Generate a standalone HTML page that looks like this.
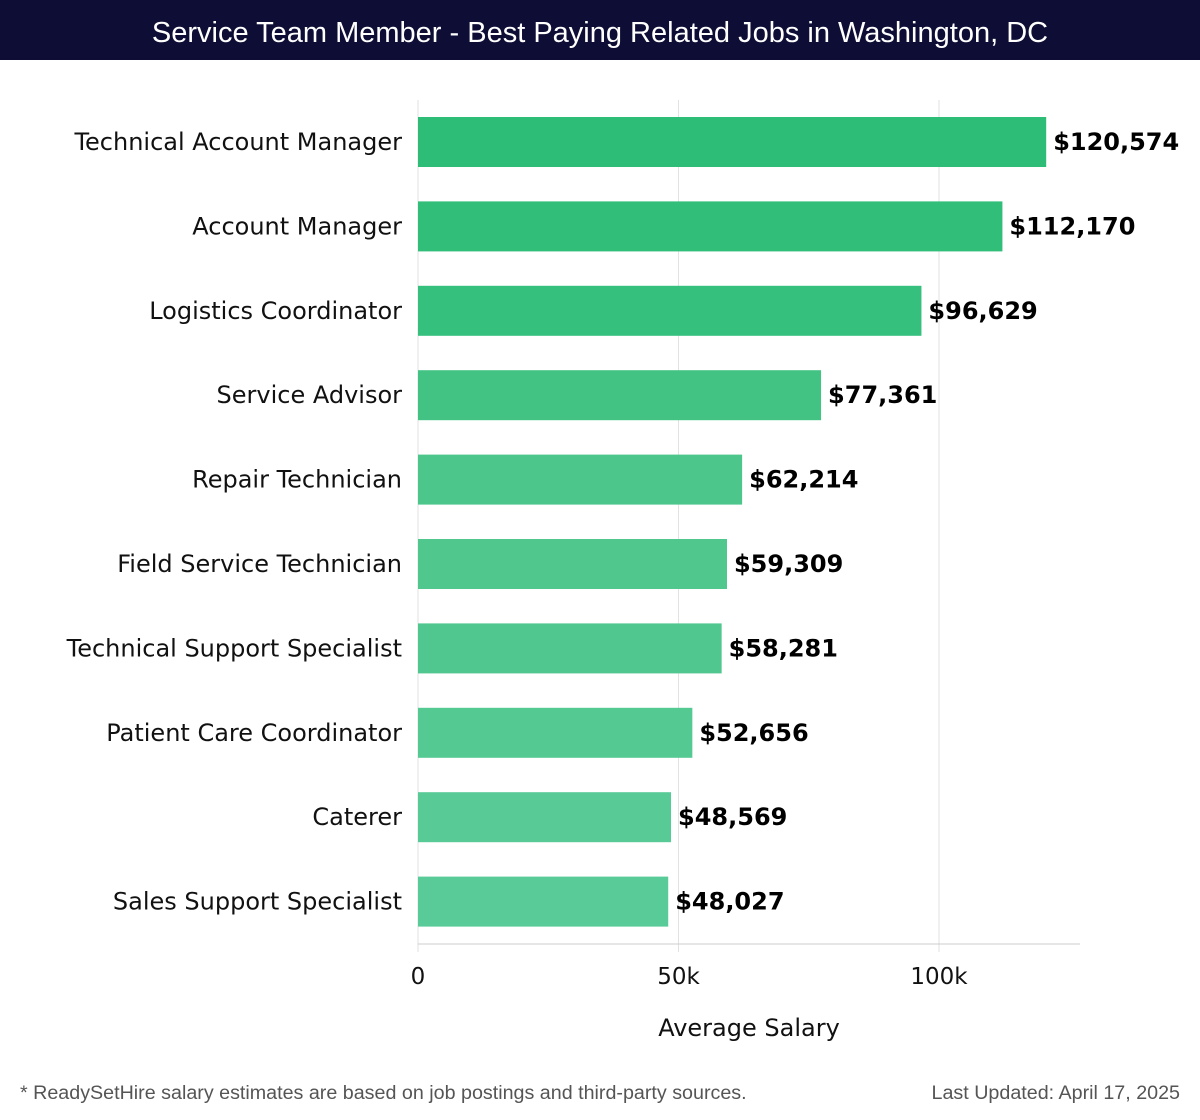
<!DOCTYPE html>
<html><head><meta charset="utf-8"><style>
body{margin:0;width:1200px;height:1120px;background:#fff;overflow:hidden;font-family:"DejaVu Sans","Liberation Sans",sans-serif}
#title{position:absolute;left:0;top:0;width:1200px;height:60px;background:#0d0d35;color:#fff;font-size:29px;line-height:66px;text-align:center;font-family:"Liberation Sans",sans-serif}
svg{position:absolute;left:0;top:0}
</style></head><body>
<div id="title">Service Team Member - Best Paying Related Jobs in Washington, DC</div>
<svg id="chart" width="1200" height="1120"></svg>
<script>
const categories=["Technical Account Manager","Account Manager","Logistics Coordinator","Service Advisor","Repair Technician","Field Service Technician","Technical Support Specialist","Patient Care Coordinator","Caterer","Sales Support Specialist"];
const salaries=[120574,112170,96629,77361,62214,59309,58281,52656,48569,48027];
const tickValues=[0,50000,100000];
const tickLabels=["0","50k","100k"];
const colors=["#2dbd77","#30be79","#36c07d","#42c384","#4cc68b","#4fc78d","#50c78e","#54c992","#57ca95","#58cb98"];
const NS="http://www.w3.org/2000/svg";
const svg=document.getElementById('chart');
const x=v=>418+v*(939-418)/100000;
const y=i=>117+i*84.4;
const bh=50;
function mk(t,a,txt){const e=document.createElementNS(NS,t);for(const k in a)e.setAttribute(k,a[k]);if(txt!=null)e.textContent=txt;svg.appendChild(e);return e;}
tickValues.forEach((v,i)=>{
 const g=mk('line',{x1:x(v),x2:x(v),y1:100,y2:952,stroke:'#e2e2e2','stroke-width':1});
 
 
 const t=mk('text',{x:x(v),y:984,'text-anchor':'middle','font-size':23,fill:'#111'},tickLabels[i]);
 
 
});
const ax=mk('line',{x1:418,x2:1080,y1:944,y2:944,stroke:'#ccc','stroke-width':1});


const xt=mk('text',{x:749,y:1036,'text-anchor':'middle','font-size':24,fill:'#111'},'Average Salary');


categories.forEach((c,i)=>{
 const r=mk('rect',{x:x(0),y:y(i),width:x(salaries[i])-x(0),height:bh,fill:colors[i]});
 
 
 const l=mk('text',{x:402,y:y(i)+bh/2+8,'text-anchor':'end','font-size':24,fill:'#111'},c);
 
 
 const v=mk('text',{x:x(salaries[i])+7,y:y(i)+bh/2+8,'font-size':24,'font-weight':'bold',fill:'#000'},'$'+salaries[i].toLocaleString('en-US'));
 
 
});
const f1=mk('text',{x:20,y:1099,'font-size':19.7,fill:'#555','font-family':'Liberation Sans, sans-serif'},'* ReadySetHire salary estimates are based on job postings and third-party sources.');


const f2=mk('text',{x:1180,y:1099,'text-anchor':'end','font-size':19.7,fill:'#555','font-family':'Liberation Sans, sans-serif'},'Last Updated: April 17, 2025');


</script>
</body></html>
